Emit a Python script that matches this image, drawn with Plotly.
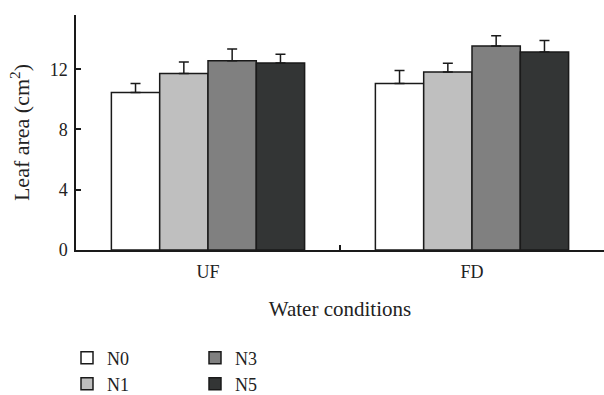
import plotly.graph_objects as go

categories = ["UF", "FD"]
series_names = ["N0", "N1", "N3", "N5"]
values = {
    "N0": [10.45, 11.05],
    "N1": [11.71, 11.82],
    "N3": [12.57, 13.54],
    "N5": [12.41, 13.14],
}
errors = {
    "N0": [0.60, 0.86],
    "N1": [0.77, 0.57],
    "N3": [0.77, 0.69],
    "N5": [0.58, 0.77],
}
colors = {"N0": "#ffffff", "N1": "#bfbfbf", "N3": "#808080", "N5": "#333535"}
y_ticks = [0, 4, 8, 12]

FONT = "Liberation Serif"
legend_ids = {"N0": "legend", "N1": "legend2", "N3": "legend3", "N5": "legend4"}
legend_pos = {"N0": (67, 358), "N1": (67, 384), "N3": (195, 358), "N5": (195, 384)}

W, H = 604, 395
L, R, T, B = 76, 0, 15, 145
pw, ph = W - L - R, H - T - B

fig = go.Figure()
for name in series_names:
    fig.add_trace(go.Bar(
        x=categories, y=values[name], name=name,
        marker=dict(color=colors[name], line=dict(color="#1a1a1a", width=1.5)),
        error_y=dict(type="data", array=errors[name], arrayminus=[0] * len(categories),
                     symmetric=False, color="#1a1a1a", thickness=1.5, width=5),
        legend=legend_ids[name],
    ))

layout_legends = {}
for name in series_names:
    px_, py_ = legend_pos[name]
    layout_legends[legend_ids[name]] = dict(
        x=(px_ - L) / pw, y=(H - B - py_) / ph,
        xanchor="left", yanchor="middle", bgcolor="rgba(0,0,0,0)",
        font=dict(family=FONT, size=18, color="#222"),
    )

fig.update_layout(
    width=W, height=H,
    margin=dict(l=L, r=R, t=T, b=B, autoexpand=False),
    plot_bgcolor="white", paper_bgcolor="white",
    barmode="group", bargap=0.268, bargroupgap=0,
    font=dict(family=FONT, size=18, color="#222"),
    showlegend=True,
    **layout_legends,
)
fig.update_xaxes(
    showline=True, linecolor="#1a1a1a", linewidth=1.5,
    ticks="inside", tickson="boundaries", ticklen=5, tickcolor="#1a1a1a", tickwidth=1.5,
    ticklabelstandoff=5,
    showgrid=False, range=[-0.5, 1.5],
    title=dict(text="Water conditions", standoff=20, font=dict(family=FONT, size=21, color="#222")),
)
fig.update_yaxes(
    showline=True, linecolor="#1a1a1a", linewidth=1.5,
    ticks="inside", ticklen=5, tickcolor="#1a1a1a", tickwidth=1.5,
    ticklabelstandoff=3,
    showgrid=False, zeroline=False, range=[0, 15.6],
    tickvals=y_ticks, ticktext=[str(v) for v in y_ticks],
    title=dict(text="Leaf area (cm<sup>2</sup>)", standoff=14),
)
fig.write_html(
    "out.html",
    config={"displayModeBar": False},
    post_script="document.body.style.margin='0';document.body.style.overflow='hidden';",
)
